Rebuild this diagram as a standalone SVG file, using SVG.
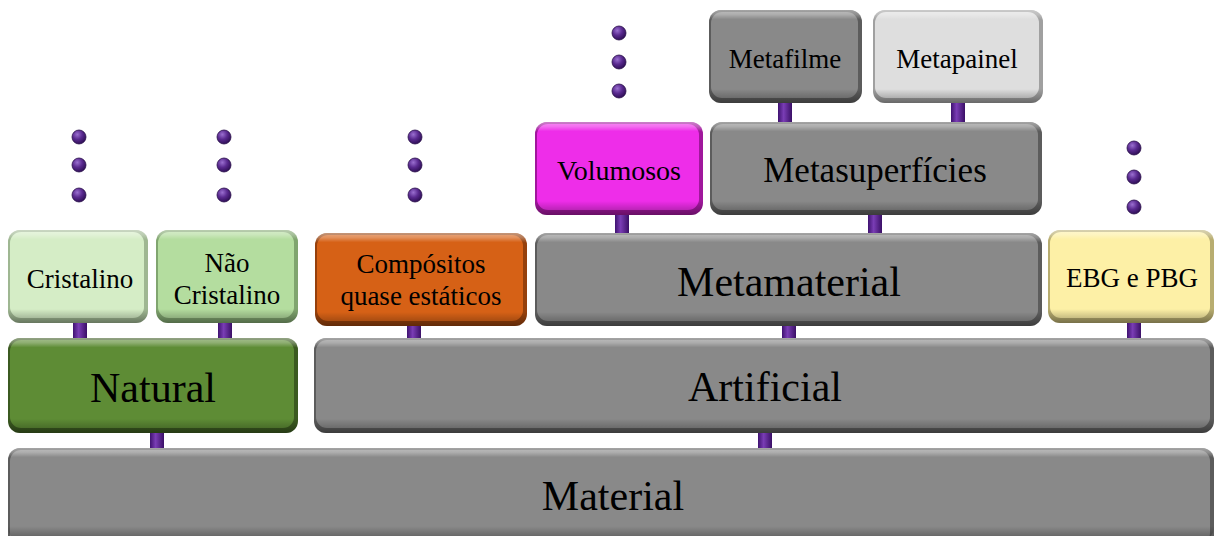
<svg xmlns="http://www.w3.org/2000/svg" width="1216" height="536" viewBox="0 0 1216 536">
<style>
text{font-family:"Liberation Serif","Times New Roman",serif;fill:#000;text-anchor:middle}
.big{font-size:42px}
.mid{font-size:35px}
.sm{font-size:27px}
.vol{font-size:28px}
.hl{fill:url(#vshade)}
.conn{fill:url(#cgrad)}
.dot{fill:url(#dgrad);stroke:#2a0f4a;stroke-width:0.8}
</style>
<defs>
<linearGradient id="vshade" x1="0" y1="0" x2="0" y2="1">
<stop offset="0" stop-color="#fff" stop-opacity="0.45"/>
<stop offset="0.05" stop-color="#fff" stop-opacity="0.3"/>
<stop offset="0.1" stop-color="#fff" stop-opacity="0"/>
<stop offset="0.85" stop-color="#000" stop-opacity="0"/>
<stop offset="0.94" stop-color="#000" stop-opacity="0.2"/>
<stop offset="1" stop-color="#000" stop-opacity="0.35"/>
</linearGradient>
<linearGradient id="cgrad" x1="0" y1="0" x2="1" y2="0">
<stop offset="0" stop-color="#3f1270"/>
<stop offset="0.4" stop-color="#7a3db5"/>
<stop offset="1" stop-color="#3a0f66"/>
</linearGradient>
<radialGradient id="dgrad" cx="0.38" cy="0.32" r="0.7">
<stop offset="0" stop-color="#9a6fd0"/>
<stop offset="0.5" stop-color="#5a2a90"/>
<stop offset="1" stop-color="#2e0e55"/>
</radialGradient>
</defs>

<g id="connectors">
<rect class="conn" x="150" y="431" width="14" height="18"/>
<rect class="conn" x="758" y="431" width="14" height="18"/>
<rect class="conn" x="73" y="322" width="14" height="18"/>
<rect class="conn" x="218" y="322" width="14" height="18"/>
<rect class="conn" x="407" y="324" width="14" height="16"/>
<rect class="conn" x="782" y="324" width="14" height="16"/>
<rect class="conn" x="1127" y="322" width="14" height="18"/>
<rect class="conn" x="615" y="212" width="14" height="22"/>
<rect class="conn" x="868" y="212" width="14" height="22"/>
<rect class="conn" x="778" y="101" width="14" height="22"/>
<rect class="conn" x="951" y="101" width="14" height="22"/>
</g>

<g id="dots">
<circle class="dot" cx="79" cy="137" r="7"/><circle class="dot" cx="79" cy="165" r="7"/><circle class="dot" cx="79" cy="195" r="7"/>
<circle class="dot" cx="224" cy="137" r="7"/><circle class="dot" cx="224" cy="165" r="7"/><circle class="dot" cx="224" cy="195" r="7"/>
<circle class="dot" cx="415" cy="137" r="7"/><circle class="dot" cx="415" cy="165" r="7"/><circle class="dot" cx="415" cy="195" r="7"/>
<circle class="dot" cx="619" cy="33" r="7"/><circle class="dot" cx="619" cy="62" r="7"/><circle class="dot" cx="619" cy="91" r="7"/>
<circle class="dot" cx="1134" cy="148" r="7"/><circle class="dot" cx="1134" cy="177" r="7"/><circle class="dot" cx="1134" cy="207" r="7"/>
</g>

<g id="material">
<rect x="8" y="448" width="1206" height="100" rx="12" fill="#5c5c5c"/>
<rect x="10" y="450" width="1200" height="94" rx="11" fill="#898989"/>
<rect class="hl" x="8" y="448" width="1206" height="92" rx="12"/>
<text class="big" x="613" y="510">Material</text>
</g>

<g id="natural">
<rect x="8" y="338" width="290" height="95" rx="12" fill="#3b5a20"/>
<rect x="10" y="340" width="284" height="88" rx="11" fill="#5e8c35"/>
<rect class="hl" x="8" y="338" width="290" height="95" rx="12"/>
<text class="big" x="153" y="402">Natural</text>
</g>

<g id="artificial">
<rect x="314" y="338" width="900" height="95" rx="12" fill="#5c5c5c"/>
<rect x="316" y="340" width="894" height="88" rx="11" fill="#898989"/>
<rect class="hl" x="314" y="338" width="900" height="95" rx="12"/>
<text class="big" x="765" y="401">Artificial</text>
</g>

<g id="cristalino">
<rect x="8" y="230" width="140" height="93" rx="12" fill="#9fb792"/>
<rect x="10" y="232" width="134" height="86" rx="11" fill="#d5edc6"/>
<rect class="hl" x="8" y="230" width="140" height="93" rx="12"/>
<text class="sm" x="80" y="288">Cristalino</text>
</g>

<g id="nao-cristalino">
<rect x="156" y="230" width="142" height="93" rx="12" fill="#80a56f"/>
<rect x="158" y="232" width="136" height="86" rx="11" fill="#b4dd9f"/>
<rect class="hl" x="156" y="230" width="142" height="93" rx="12"/>
<text class="sm" x="227" y="272">Não</text>
<text class="sm" x="227" y="304">Cristalino</text>
</g>

<g id="compositos">
<rect x="315" y="233" width="212" height="93" rx="12" fill="#95400c"/>
<rect x="317" y="235" width="206" height="86" rx="11" fill="#d66116"/>
<rect class="hl" x="315" y="233" width="212" height="93" rx="12"/>
<text class="sm" x="421" y="273">Compósitos</text>
<text class="sm" x="421" y="305">quase estáticos</text>
</g>

<g id="metamaterial">
<rect x="535" y="233" width="507" height="93" rx="12" fill="#5c5c5c"/>
<rect x="537" y="235" width="501" height="86" rx="11" fill="#898989"/>
<rect class="hl" x="535" y="233" width="507" height="93" rx="12"/>
<text class="big" x="789" y="296">Metamaterial</text>
</g>

<g id="ebg-pbg">
<rect x="1048" y="230" width="166" height="93" rx="12" fill="#b8ad70"/>
<rect x="1050" y="232" width="160" height="86" rx="11" fill="#fdf0a6"/>
<rect class="hl" x="1048" y="230" width="166" height="93" rx="12"/>
<text class="sm" x="1132" y="287">EBG e PBG</text>
</g>

<g id="volumosos">
<rect x="535" y="122" width="168" height="93" rx="12" fill="#a0179c"/>
<rect x="537" y="124" width="162" height="86" rx="11" fill="#ee2de9"/>
<rect class="hl" x="535" y="122" width="168" height="93" rx="12"/>
<text class="vol" x="619" y="180">Volumosos</text>
</g>

<g id="metasuperficies">
<rect x="710" y="122" width="332" height="93" rx="12" fill="#5c5c5c"/>
<rect x="712" y="124" width="326" height="86" rx="11" fill="#898989"/>
<rect class="hl" x="710" y="122" width="332" height="93" rx="12"/>
<text class="mid" x="875" y="182">Metasuperfícies</text>
</g>

<g id="metafilme">
<rect x="709" y="10" width="153" height="93" rx="12" fill="#5c5c5c"/>
<rect x="711" y="12" width="147" height="86" rx="11" fill="#898989"/>
<rect class="hl" x="709" y="10" width="153" height="93" rx="12"/>
<text class="sm" x="785" y="68">Metafilme</text>
</g>

<g id="metapainel">
<rect x="873" y="10" width="170" height="93" rx="12" fill="#a0a0a0"/>
<rect x="875" y="12" width="164" height="86" rx="11" fill="#dedede"/>
<rect class="hl" x="873" y="10" width="170" height="93" rx="12"/>
<text class="sm" x="957" y="68">Metapainel</text>
</g>
</svg>
